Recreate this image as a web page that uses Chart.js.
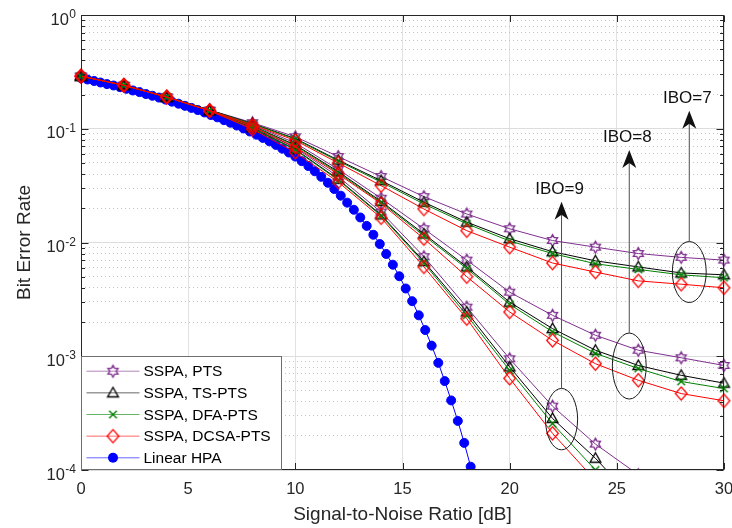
<!DOCTYPE html>
<html>
<head>
<meta charset="utf-8">
<script src="https://cdn.jsdelivr.net/npm/chart.js@4.4.1/dist/chart.umd.min.js"></script>
<style>
  html, body { margin: 0; padding: 0; background: #fff; }
  canvas { display: block; }
</style>
</head>
<body>
<canvas id="ber" width="732" height="528"></canvas>
<script>
// SNR grid of the SSPA curves (dB)
const snr = [0, 2, 4, 6, 8, 10, 12, 14, 16, 18, 20, 22, 24, 26, 28, 30];

// IBO = 7
const ptsIbo7  = [0.29, 0.241, 0.19, 0.146, 0.113, 0.085, 0.057, 0.038, 0.0253, 0.0178, 0.0132, 0.0104, 0.0091, 0.0080, 0.0074, 0.0070];
const tsIbo7   = [0.29, 0.241, 0.19, 0.146, 0.111, 0.082, 0.053, 0.035, 0.0226, 0.0151, 0.0108, 0.0083, 0.0069, 0.0061, 0.0054, 0.0052];
const dfaIbo7  = [0.29, 0.241, 0.19, 0.145, 0.110, 0.081, 0.052, 0.034, 0.0218, 0.0146, 0.0103, 0.0080, 0.0065, 0.0058, 0.0052, 0.0049];
const dcsaIbo7 = [0.29, 0.241, 0.19, 0.145, 0.108, 0.079, 0.050, 0.0316, 0.0197, 0.0127, 0.0091, 0.0066, 0.0055, 0.0046, 0.0043, 0.0040];

// IBO = 8
const ptsIbo8  = [0.29, 0.241, 0.19, 0.145, 0.108, 0.075, 0.044, 0.0245, 0.0132, 0.0070, 0.00366, 0.00229, 0.00153, 0.00113, 0.00097, 0.00083];
const tsIbo8   = [0.29, 0.241, 0.19, 0.145, 0.106, 0.072, 0.042, 0.023, 0.0119, 0.0061, 0.00299, 0.00175, 0.00113, 0.00083, 0.00068, 0.00058];
const dfaIbo8  = [0.29, 0.241, 0.19, 0.145, 0.105, 0.071, 0.041, 0.0225, 0.0115, 0.0059, 0.00286, 0.00164, 0.00106, 0.00078, 0.00060, 0.00052];
const dcsaIbo8 = [0.29, 0.241, 0.19, 0.144, 0.104, 0.069, 0.040, 0.022, 0.0108, 0.0050, 0.00245, 0.00138, 0.00086, 0.000615, 0.00047, 0.000406];

// IBO = 9 (runs off the bottom of the plot)
const ptsIbo9  = [0.29, 0.241, 0.19, 0.144, 0.104, 0.068, 0.038, 0.0185, 0.0075, 0.0027, 0.00095, 0.000364, 0.000169, 0.000091];
const tsIbo9   = [0.29, 0.241, 0.19, 0.144, 0.102, 0.066, 0.036, 0.0175, 0.0068, 0.00245, 0.000806, 0.000284, 0.000127, 0.00005];
const dfaIbo9  = [0.29, 0.241, 0.19, 0.144, 0.101, 0.065, 0.0355, 0.0172, 0.0066, 0.00229, 0.00075, 0.000256, 0.0001, 0.00004];
const dcsaIbo9 = [0.29, 0.241, 0.19, 0.144, 0.099, 0.062, 0.034, 0.0165, 0.0061, 0.00214, 0.00064, 0.00021, 0.000081];

// Linear HPA
const hpaSnr = [0, 0.30, 0.61, 0.91, 1.21, 1.52, 1.82, 2.12, 2.42, 2.73, 3.03, 3.33, 3.64, 3.94, 4.24, 4.55,
  4.85, 5.15, 5.45, 5.76, 6.06, 6.36, 6.67, 6.97, 7.27, 7.58, 7.88, 8.18, 8.48, 8.79, 9.09, 9.39, 9.70,
  10.00, 10.30, 10.61, 10.91, 11.21, 11.52, 11.82, 12.12, 12.42, 12.73, 13.03, 13.33, 13.64, 13.94, 14.24,
  14.55, 14.85, 15.15, 15.45, 15.76, 16.06, 16.36, 16.67, 16.97, 17.27, 17.58, 17.88, 18.18];
const hpaBer = [0.279, 0.271, 0.263, 0.255, 0.247, 0.240, 0.232, 0.2245, 0.217, 0.210,
  0.202, 0.195, 0.188, 0.1805, 0.173, 0.166, 0.159, 0.1525, 0.146, 0.139,
  0.132, 0.126, 0.119, 0.113, 0.1067, 0.1006, 0.0946, 0.0887, 0.0831, 0.0775,
  0.0721, 0.0668, 0.0618, 0.0569, 0.0519, 0.0470, 0.0423, 0.0378, 0.0335, 0.0295,
  0.0258, 0.0224, 0.0194, 0.0166, 0.0140, 0.0117, 0.0097, 0.00793, 0.00638, 0.00505,
  0.00394, 0.00305, 0.00229, 0.00170, 0.00124, 0.000875, 0.000605, 0.000409, 0.000270, 0.000173, 0.000107];

const legendLabels = ['SSPA, PTS', 'SSPA, TS-PTS', 'SSPA, DFA-PTS', 'SSPA, DCSA-PTS', 'Linear HPA'];
const yTickExps = [-4, -3, -2, -1, 0];
const iboLabels = ['IBO=9', 'IBO=8', 'IBO=7'];

// where the ellipses / arrows sit (data units)
const iboNotes = [
  { x: 22.42, center: 2.8e-4, rx: 0.75, ry: 0.27, tip: 2.28e-2 },
  { x: 25.58, center: 8.2e-4, rx: 0.79, ry: 0.29, tip: 6.5e-2 },
  { x: 28.38, center: 5.5e-3, rx: 0.79, ry: 0.268, tip: 0.144 }
];

const FONT = '"Liberation Sans", Arial, Helvetica, sans-serif';
const TXT = '#262626';
const colors = ['#7E2F8E', '#000000', '#008000', '#FF0000', '#0000FF'];

function makeMarker(color, draw) {
  const c = document.createElement('canvas');
  c.width = 17; c.height = 17;
  const g = c.getContext('2d');
  g.translate(8.5, 8.5);
  g.strokeStyle = color;
  g.lineWidth = 1.35;
  g.lineJoin = 'miter';
  g.beginPath();
  draw(g);
  g.stroke();
  return c;
}

const markers = [
  makeMarker(colors[0], g => {
    for (let k = 0; k < 12; k++) {
      const a = -Math.PI / 2 + k * Math.PI / 6;
      const r = k % 2 ? 3.3 : 5.8;
      k ? g.lineTo(r * Math.cos(a), r * Math.sin(a)) : g.moveTo(r * Math.cos(a), r * Math.sin(a));
    }
    g.closePath();
  }),
  makeMarker(colors[1], g => { g.moveTo(0, -5.5); g.lineTo(5.4, 4); g.lineTo(-5.4, 4); g.closePath(); }),
  makeMarker(colors[2], g => { g.moveTo(-3.8, -3.8); g.lineTo(3.8, 3.8); g.moveTo(3.8, -3.8); g.lineTo(-3.8, 3.8); }),
  makeMarker(colors[3], g => { g.moveTo(0, -6.6); g.lineTo(5.8, 0); g.lineTo(0, 6.6); g.lineTo(-5.8, 0); g.closePath(); })
];

const groups = [
  [ptsIbo7, tsIbo7, dfaIbo7, dcsaIbo7],
  [ptsIbo8, tsIbo8, dfaIbo8, dcsaIbo8],
  [ptsIbo9, tsIbo9, dfaIbo9, dcsaIbo9]
];

const datasets = [];
groups.forEach(group => {
  group.forEach((vals, m) => {
    datasets.push({
      label: legendLabels[m],
      data: vals.map((v, i) => ({ x: snr[i], y: v })),
      borderColor: colors[m],
      borderWidth: 1,
      pointStyle: markers[m],
      pointRadius: 5,
      order: 4 - m,
      clip: { left: 12, right: 12, top: 12, bottom: 0 }
    });
  });
});
datasets.push({
  label: legendLabels[4],
  data: hpaBer.map((v, i) => ({ x: hpaSnr[i], y: v })),
  borderColor: colors[4],
  backgroundColor: colors[4],
  borderWidth: 1,
  pointStyle: 'circle',
  pointRadius: 4.5,
  pointBorderWidth: 1,
  order: 10,
  clip: { left: 12, right: 12, top: 12, bottom: 0 }
});

const overlay = {
  id: 'overlay',
  afterDatasetsDraw(chart) {
    const { ctx, chartArea: a, scales: { x, y } } = chart;
    const L = Math.round(a.left) + 0.5, R = Math.round(a.right) - 0.5;
    const T = Math.round(a.top) + 0.5, B = Math.round(a.bottom) - 0.5;
    ctx.save();

    // axes box with inward ticks
    ctx.strokeStyle = TXT;
    ctx.lineWidth = 1;
    ctx.strokeRect(L, T, R - L, B - T);
    ctx.beginPath();
    x.ticks.forEach(t => {
      const px = Math.round(x.getPixelForValue(t.value)) + 0.5;
      ctx.moveTo(px, B); ctx.lineTo(px, B - 6.5);
      ctx.moveTo(px, T); ctx.lineTo(px, T + 6.5);
    });
    y.ticks.forEach(t => {
      const py = Math.round(y.getPixelForValue(t.value)) + 0.5;
      const len = t.major ? 7 : 3.5;
      ctx.moveTo(L, py); ctx.lineTo(L + len, py);
      ctx.moveTo(R, py); ctx.lineTo(R - len, py);
    });
    ctx.stroke();

    // y tick labels 10^n
    ctx.fillStyle = TXT;
    ctx.textBaseline = 'alphabetic';
    yTickExps.forEach(e => {
      const py = y.getPixelForValue(Math.pow(10, e));
      ctx.font = '12px ' + FONT;
      ctx.textAlign = 'right';
      const expTxt = String(e);
      const ew = ctx.measureText(expTxt).width;
      ctx.fillText(expTxt, 76, py + 3);
      ctx.font = '16.5px ' + FONT;
      ctx.fillText('10', 76 - ew - 0.5, py + 9.5);
    });

    // IBO ellipses and arrows
    iboNotes.forEach((n, k) => {
      const cx = x.getPixelForValue(n.x);
      const cy = y.getPixelForValue(n.center);
      const rx = x.getPixelForValue(n.x + n.rx) - cx;
      const ry = cy - y.getPixelForValue(n.center * Math.pow(10, n.ry));
      const tip = y.getPixelForValue(n.tip);
      ctx.strokeStyle = '#1a1a1a';
      ctx.lineWidth = 1;
      ctx.beginPath();
      ctx.ellipse(cx, cy, rx, ry, 0, 0, Math.PI * 2);
      ctx.stroke();
      ctx.strokeStyle = '#4d4d4d';
      ctx.beginPath();
      ctx.moveTo(cx, cy - ry);
      ctx.lineTo(cx, tip + 12);
      ctx.stroke();
      ctx.fillStyle = '#111';
      ctx.beginPath();
      ctx.moveTo(cx, tip);
      ctx.lineTo(cx + 7, tip + 18);
      ctx.lineTo(cx, tip + 13);
      ctx.lineTo(cx - 7, tip + 18);
      ctx.closePath();
      ctx.fill();
      ctx.font = '17px ' + FONT;
      ctx.textAlign = 'center';
      ctx.fillText(iboLabels[k], cx - 2, tip - 8);
    });

    // legend box, bottom-left inside the axes
    const bx = Math.round(a.left) + 0.5, bw = 200, bh = 113;
    const by = B - bh;
    ctx.fillStyle = '#fff';
    ctx.fillRect(bx, by, bw, bh);
    ctx.strokeStyle = '#6e6e6e';
    ctx.strokeRect(bx, by, bw, bh);
    ctx.font = '15.5px ' + FONT;
    ctx.textAlign = 'left';
    ctx.textBaseline = 'middle';
    legendLabels.forEach((lab, i) => {
      const ry = by + 14.7 + i * 21.65;
      ctx.globalAlpha = 0.6;
      ctx.strokeStyle = colors[i];
      ctx.beginPath();
      ctx.moveTo(bx + 5, ry); ctx.lineTo(bx + 58, ry);
      ctx.stroke();
      ctx.globalAlpha = 1;
      if (i < 4) {
        ctx.drawImage(markers[i], bx + 31.5 - 8.5, ry - 8.5);
      } else {
        ctx.fillStyle = colors[4];
        ctx.beginPath(); ctx.arc(bx + 31.5, ry, 5, 0, Math.PI * 2); ctx.fill();
      }
      ctx.fillStyle = '#000';
      ctx.fillText(lab, bx + 62, ry + 1);
    });
    ctx.restore();
  }
};

new Chart(document.getElementById('ber'), {
  type: 'line',
  data: { datasets },
  plugins: [overlay],
  options: {
    responsive: false,
    animation: false,
    devicePixelRatio: 1,
    layout: { padding: { top: 15, right: 8, left: 0, bottom: 0 } },
    plugins: { legend: { display: false }, tooltip: { enabled: false } },
    elements: { line: { tension: 0 } },
    scales: {
      x: {
        type: 'linear', min: 0, max: 30,
        ticks: { stepSize: 5, color: TXT, padding: 10, font: { family: FONT, size: 16.5, lineHeight: 1.2 } },
        grid: { color: '#e1e1e1', drawTicks: false },
        border: { display: false },
        title: { display: true, text: 'Signal-to-Noise Ratio [dB]', color: TXT,
                 font: { family: FONT, size: 19, lineHeight: 1 }, padding: { bottom: 4 } },
        afterFit: s => { s.height = 58; s.paddingLeft = 0; s.paddingRight = 0; }
      },
      y: {
        type: 'logarithmic', min: 1e-4, max: 1,
        ticks: { display: false },
        afterBuildTicks: axis => {
          const ticks = [];
          for (let e = yTickExps[0]; e <= yTickExps[yTickExps.length - 1]; e++) {
            for (let m = 1; m < 10; m++) {
              const v = m * Math.pow(10, e);
              if (v > 1.0000001) break;
              ticks.push({ value: v, major: m === 1 });
            }
          }
          axis.ticks = ticks;
        },
        grid: {
          drawTicks: false,
          color: c => (c.tick && c.tick.major ? '#dcdcdc' : '#c4c4c4')
        },
        border: { display: false, dash: c => (c.tick && !c.tick.major ? [1, 3] : []) },
        title: { display: true, text: 'Bit Error Rate', color: TXT,
                 font: { family: FONT, size: 19, lineHeight: 1 }, padding: { top: 15 } },
        afterFit: s => { s.width = 81; s.paddingTop = 0; s.paddingBottom = 0; }
      }
    }
  }
});
</script>
</body>
</html>
